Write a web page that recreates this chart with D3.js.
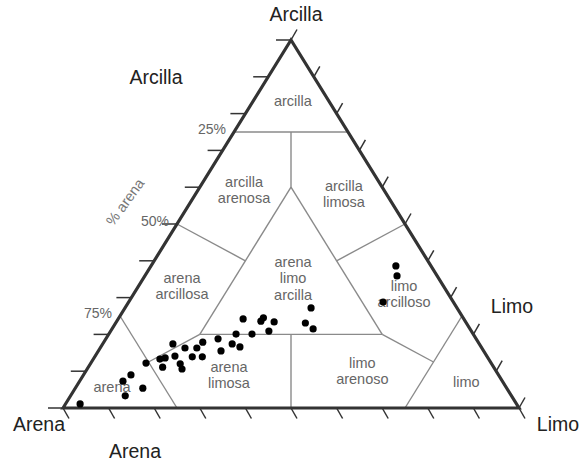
<!DOCTYPE html>
<html>
<head>
<meta charset="utf-8">
<script src="https://cdn.jsdelivr.net/npm/d3@7"></script>
<style>
  body { margin: 0; background: #fff; }
  text { font-family: "Liberation Sans", Arial, sans-serif; }
</style>
</head>
<body>
<div id="plot"></div>
<script>
    // Sample composition (%)
    const arena   = [95.7, 83.2, 80.6, 79.8, 84.7, 75.7, 72.1, 70.8, 72.6, 67.2, 68.4, 68.3, 68.6, 65.1, 64.7, 62.5, 62.5, 60.4,
                     56.6, 57.6, 54.2, 52.0, 52.9, 48.4, 48.5, 44.8, 43.8, 42.0, 44.4, 35.3, 34.4, 32.0, 7.7, 8.8, 15.4];
    const arcilla = [1.1, 7.3, 9.0, 5.4, 3.3, 12.2, 13.3, 13.6, 11.1, 17.4, 14.1, 12.0, 10.6, 16.3, 13.9, 16.3, 13.9, 17.9,
                     18.8, 15.5, 17.4, 20.1, 16.6, 24.2, 20.1, 23.6, 24.5, 23.4, 20.9, 23.1, 21.5, 27.2, 38.6, 35.9, 28.8];
    const limo    = [3.2, 9.5, 10.4, 14.8, 12.0, 12.1, 14.6, 15.6, 16.3, 15.4, 17.5, 19.7, 20.8, 18.6, 21.4, 21.2, 23.6, 21.7,
                     24.6, 26.9, 28.4, 27.9, 30.5, 27.4, 31.4, 31.6, 31.7, 34.6, 34.7, 41.6, 44.1, 40.8, 53.7, 55.3, 55.8];

    // class boundaries as [arcilla, limo] pairs
    const boundaries = [
        [[75, 0], [75, 25]],
        [[75, 12.5], [60, 20]],
        [[60, 20], [20, 20]],
        [[60, 20], [20, 60]],
        [[50, 0], [40, 20]],
        [[40, 40], [50, 50]],
        [[20, 20], [12.5, 12.5]],
        [[20, 60], [12.5, 75]],
        [[25, 0], [0, 25]],
        [[25, 75], [0, 75]],
        [[20, 20], [20, 60]],
        [[20, 40], [0, 50]]
    ];

    // class names and where they sit [arcilla, limo]
    const classNames = [['arcilla'], ['arcilla', 'arenosa'], ['arcilla', 'limosa'], ['arena', 'arcillosa'],
                        ['arena', 'limo', 'arcilla'], ['limo', 'arcilloso'], ['arena'], ['arena', 'limosa'],
                        ['limo', 'arenoso'], ['limo']];
    const classPos = [[83.4, 8.7], [59.2, 10.1], [58.2, 32.5], [33.2, 9.5], [35.3, 32.8], [31.0, 59.3],
                      [5.7, 7.9], [9.0, 31.9], [10.1, 60.6], [7.1, 84.9]];

    const pctLabels = [25, 50, 75];
    const tickValues = d3.range(0, 101, 10);

    const svgWidth = 583;
    const svgHeight = 468;

    const svg = d3.select('#plot')
        .append('svg')
        .attr('width', svgWidth)
        .attr('height', svgHeight);

    // arcilla -> vertical, (limo + arcilla/2) -> horizontal
    const yScale = d3.scaleLinear().domain([0, 100]).range([408, 40]);
    const xScale = d3.scaleLinear().domain([0, 100]).range([63, 519]);
    const pos = (c, l) => [xScale(l + c / 2), yScale(c)];

    const line = d3.line();

    // boundaries
    svg.append('g')
        .selectAll('path')
        .data(boundaries)
        .enter()
        .append('path')
        .attr('d', d => line(d.map(p => pos(p[0], p[1]))))
        .attr('fill', 'none')
        .attr('stroke', '#8a8a8a')
        .attr('stroke-width', 1.4);

    // ticks
    const ticks = svg.append('g').attr('stroke', '#333').attr('stroke-width', 1.5);
    ticks.selectAll('.tl').data(tickValues).enter().append('line')
        .attr('x1', d => pos(d, 0)[0]).attr('y1', d => pos(d, 0)[1])
        .attr('x2', d => pos(d, 0)[0] - 15).attr('y2', d => pos(d, 0)[1]);
    ticks.selectAll('.tr').data(tickValues).enter().append('line')
        .attr('x1', d => pos(d, 100 - d)[0]).attr('y1', d => pos(d, 100 - d)[1])
        .attr('x2', d => pos(d, 100 - d)[0] + 6).attr('y2', d => pos(d, 100 - d)[1] - 10.5);
    ticks.selectAll('.tb').data(tickValues).enter().append('line')
        .attr('x1', d => pos(0, d)[0]).attr('y1', d => pos(0, d)[1])
        .attr('x2', d => pos(0, d)[0] + 6).attr('y2', d => pos(0, d)[1] + 10.5);

    // outer triangle
    svg.append('path')
        .attr('d', line([pos(0, 0), pos(100, 0), pos(0, 100)]) + 'Z')
        .attr('fill', 'none')
        .attr('stroke', '#333')
        .attr('stroke-width', 3.2);

    // class names
    const names = svg.append('g')
        .selectAll('text')
        .data(classNames)
        .enter()
        .append('text')
        .attr('text-anchor', 'middle')
        .attr('fill', '#666')
        .style('font-size', '14.5px')
        .attr('transform', (d, i) => `translate(${pos(classPos[i][0], classPos[i][1])})`);
    names.selectAll('tspan')
        .data(d => d.map((t, j) => ({ t, j, n: d.length })))
        .enter()
        .append('tspan')
        .attr('x', 0)
        .attr('y', d => (d.j - (d.n - 1) / 2) * 16.5 + 5)
        .text(d => d.t);

    // percent labels on the left side
    svg.selectAll('.pct')
        .data(pctLabels)
        .enter()
        .append('text')
        .attr('x', d => pos(100 - d, 0)[0] - 8)
        .attr('y', d => pos(100 - d, 0)[1] + 2)
        .attr('text-anchor', 'end')
        .attr('fill', '#666')
        .style('font-size', '14px')
        .text(d => d + '%');

    svg.append('text')
        .attr('transform', 'translate(125,202) rotate(-54)')
        .attr('text-anchor', 'middle')
        .attr('dy', '0.35em')
        .attr('fill', '#777')
        .style('font-size', '14.5px')
        .text('% arena');

    // corner / axis names
    const corner = [
        { t: 'Arcilla', x: 296, y: 21 },
        { t: 'Arcilla', x: 156, y: 84 },
        { t: 'Limo', x: 512, y: 313 },
        { t: 'Limo', x: 558, y: 431 },
        { t: 'Arena', x: 39, y: 431 },
        { t: 'Arena', x: 135, y: 458 }
    ];
    svg.selectAll('.corner')
        .data(corner)
        .enter()
        .append('text')
        .attr('x', d => d.x)
        .attr('y', d => d.y)
        .attr('text-anchor', 'middle')
        .attr('fill', '#222')
        .style('font-size', '19.5px')
        .text(d => d.t);

    // samples
    svg.append('g')
        .selectAll('circle')
        .data(arena.map((a, i) => ({ arena: a, arcilla: arcilla[i], limo: limo[i] })))
        .enter()
        .append('circle')
        .attr('cx', d => pos(d.arcilla, d.limo)[0])
        .attr('cy', d => pos(d.arcilla, d.limo)[1])
        .attr('r', 3.6)
        .attr('fill', '#000');
</script>
</body>
</html>
